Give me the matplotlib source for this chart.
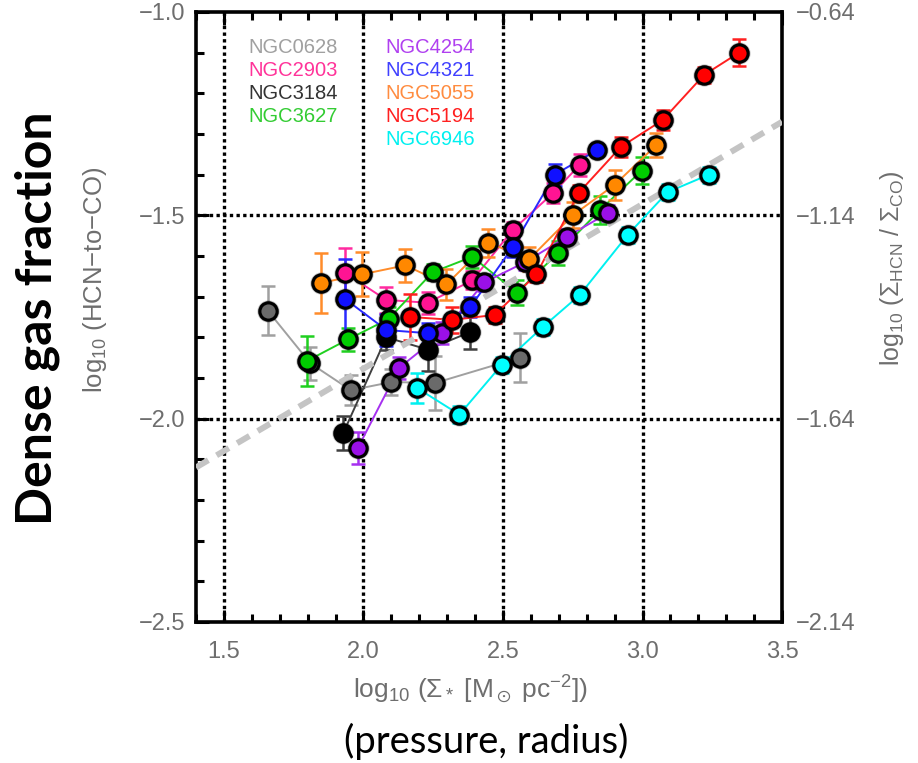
import matplotlib.pyplot as plt
import numpy as np
from matplotlib.ticker import MultipleLocator, FuncFormatter

plt.rcParams['font.family'] = ['Liberation Sans', 'DejaVu Sans']
plt.rcParams['mathtext.fontset'] = 'custom'
plt.rcParams['mathtext.rm'] = 'Liberation Sans'
plt.rcParams['mathtext.it'] = 'Liberation Sans:italic'
plt.rcParams['mathtext.fallback'] = 'stixsans'

# log10 stellar surface density vs log10 HCN/CO, binned per galaxy
ngc0628_x = [1.658, 1.81, 1.955, 2.10, 2.258, 2.56]
ngc0628_y = [-1.735, -1.864, -1.93, -1.91, -1.912, -1.85]
ngc0628_err = [0.06, 0.04, 0.037, 0.032, 0.066, 0.06]

ngc2903_x = [1.935, 2.082, 2.23, 2.39, 2.535, 2.68, 2.775]
ngc2903_y = [-1.642, -1.708, -1.715, -1.66, -1.536, -1.445, -1.376]
ngc2903_err = [0.062, 0.032, 0.027, 0.022, 0.02, 0.025, 0.027]

ngc3184_x = [1.928, 2.082, 2.23, 2.383]
ngc3184_y = [-2.035, -1.80, -1.83, -1.787]
ngc3184_err = [0.042, 0.03, 0.052, 0.042]

ngc3627_x = [1.798, 1.945, 2.09, 2.248, 2.39, 2.55, 2.697, 2.848, 2.997]
ngc3627_y = [-1.858, -1.805, -1.755, -1.64, -1.602, -1.69, -1.593, -1.487, -1.39]
ngc3627_err = [0.062, 0.028, 0.03, 0.02, 0.027, 0.03, 0.03, 0.034, 0.034]

ngc4254_x = [1.98, 2.128, 2.283, 2.433, 2.58, 2.728, 2.875]
ngc4254_y = [-2.072, -1.875, -1.79, -1.665, -1.615, -1.553, -1.495]
ngc4254_err = [0.04, 0.027, 0.027, 0.02, 0.02, 0.02, 0.02]

ngc4321_x = [1.935, 2.082, 2.233, 2.383, 2.535, 2.685, 2.836]
ngc4321_y = [-1.706, -1.782, -1.79, -1.726, -1.578, -1.40, -1.34]
ngc4321_err = [0.098, 0.04, 0.025, 0.025, 0.025, 0.027, 0.015]

ngc5055_x = [1.849, 1.996, 2.15, 2.297, 2.448, 2.595, 2.75, 2.90, 3.05]
ngc5055_y = [-1.666, -1.645, -1.623, -1.67, -1.568, -1.607, -1.50, -1.425, -1.327]
ngc5055_err = [0.074, 0.054, 0.041, 0.037, 0.034, 0.03, 0.032, 0.037, 0.03]

ngc5194_x = [2.168, 2.319, 2.47, 2.62, 2.771, 2.922, 3.072, 3.22, 3.346]
ngc5194_y = [-1.75, -1.757, -1.745, -1.645, -1.445, -1.332, -1.266, -1.155, -1.10]
ngc5194_err = [0.057, 0.032, 0.02, 0.02, 0.02, 0.025, 0.025, 0.02, 0.034]

ngc6946_x = [2.193, 2.344, 2.495, 2.642, 2.775, 2.947, 3.09, 3.238]
ngc6946_y = [-1.925, -1.99, -1.868, -1.775, -1.696, -1.548, -1.443, -1.40]
ngc6946_err = [0.037, 0.02, 0.02, 0.02, 0.02, 0.02, 0.02, 0.02]

# overall trend
trend_x = [1.4, 3.5]
trend_y = [-2.12, -1.27]

names = ['NGC0628', 'NGC2903', 'NGC3184', 'NGC3627',
         'NGC4254', 'NGC4321', 'NGC5055', 'NGC5194', 'NGC6946']
line_colors = ['#a0a0a0', '#ff2aa0', '#404040', '#20d020', '#a630f0',
               '#2a2aff', '#ff8c2a', '#ff2020', '#00f0f0']
fill_colors = ['#6a6a6a', '#ff1493', '#000000', '#00cc00', '#9a10e8',
               '#1010ff', '#ff8800', '#ff0000', '#00ffff']
text_colors = ['#a0a0a0', '#ff3399', '#333333', '#33cc33', '#b040f0',
               '#4040ff', '#ff8c40', '#ff2020', '#00f0f0']

series = [(ngc0628_x, ngc0628_y, ngc0628_err),
          (ngc2903_x, ngc2903_y, ngc2903_err),
          (ngc3184_x, ngc3184_y, ngc3184_err),
          (ngc3627_x, ngc3627_y, ngc3627_err),
          (ngc4254_x, ngc4254_y, ngc4254_err),
          (ngc4321_x, ngc4321_y, ngc4321_err),
          (ngc5055_x, ngc5055_y, ngc5055_err),
          (ngc5194_x, ngc5194_y, ngc5194_err),
          (ngc6946_x, ngc6946_y, ngc6946_err)]


def fmt(digits):
    return FuncFormatter(lambda v, p: f'{v:.{digits}f}'.replace('-', '\u2212'))


fig = plt.figure(figsize=(9.18, 7.63), dpi=100)
ax = fig.add_axes([0.2135, 0.1848, 0.6384, 0.7995])
ax.set_xlim(1.4, 3.5)
ax.set_ylim(-2.5, -1.0)

for xv in [1.5, 2.0, 2.5, 3.0]:
    ax.axvline(xv, color='k', lw=2.4, ls=(0, (1, 1)), zorder=1)
for yv in [-1.5, -2.0]:
    ax.axhline(yv, color='k', lw=2.4, ls=(0, (1, 1)), zorder=1)

for i, (x, y, e) in enumerate(series):
    z = 2 + i * 0.01
    ax.plot(x, y, '-', color=line_colors[i], lw=1.4, zorder=z)
    ax.errorbar(x, y, yerr=e, fmt='none', ecolor=line_colors[i],
                elinewidth=1.8, capsize=5, capthick=1.8, zorder=z)

ax.plot(trend_x, trend_y, color='#c4c4c4', lw=4.3, ls=(0, (2.4, 1.6)), zorder=3)

for i, (x, y, e) in enumerate(series):
    z = 4 + i * 0.01
    ax.plot(x, y, 'o', ms=16, color='k', alpha=0.22, mew=0, zorder=z)
    ax.plot(x, y, 'o', ms=12.5, mfc=fill_colors[i], mec='k', mew=2.3, zorder=z)

# galaxy names in two columns
col_x = [0.089, 0.324]
for i, name in enumerate(names):
    col = 0 if i < 4 else 1
    row = i if i < 4 else i - 4
    ax.text(col_x[col], 0.941 - row * 0.0375, name, color=text_colors[i],
            fontsize=14.5, ha='left', va='center', transform=ax.transAxes)

for s in ax.spines.values():
    s.set_linewidth(2.6)

ax.xaxis.set_major_locator(MultipleLocator(0.5))
ax.xaxis.set_minor_locator(MultipleLocator(0.1))
ax.yaxis.set_major_locator(MultipleLocator(0.5))
ax.yaxis.set_minor_locator(MultipleLocator(0.1))
ax.xaxis.set_major_formatter(fmt(1))
ax.yaxis.set_major_formatter(fmt(1))
ax.tick_params(which='both', direction='in', top=True, right=False,
               colors='#000000', labelcolor='#6e6e6e', width=2.2, labelsize=17)
ax.tick_params(which='major', length=9)
ax.tick_params(which='minor', length=6)
ax.tick_params(axis='x', pad=14)
ax.tick_params(axis='y', pad=8)

ax2 = ax.twinx()
ax2.set_ylim(-2.5 + 0.36, -1.0 + 0.36)
ax2.set_yticks([-2.14, -1.64, -1.14, -0.64])
ax2.yaxis.set_major_formatter(fmt(2))
ax2.tick_params(axis='y', length=0, pad=10, labelsize=17, labelcolor='#6e6e6e')
for s in ax2.spines.values():
    s.set_visible(False)

fig.text(0.512, 0.096, r'log$_{10}$ ($\Sigma_*$ [M$_\odot$ pc$^{-2}$])',
         color='#6e6e6e', fontsize=19, ha='center', va='center')
fig.text(0.104, 0.633, r'log$_{10}$ (HCN$-$to$-$CO)', color='#6e6e6e',
         fontsize=18.5, rotation=90, ha='center', va='center')
fig.text(0.972, 0.649, r'log$_{10}$ ($\Sigma_{\rm HCN}$ / $\Sigma_{\rm CO}$)',
         color='#6e6e6e', fontsize=18, rotation=90, ha='center', va='center')
fig.text(0.041, 0.583, 'Dense gas fraction', family='Lato', fontweight='bold',
         fontsize=36, rotation=90, ha='center', va='center', color='k')
fig.text(0.53, 0.028, '(pressure, radius)', family='Lato', fontsize=27.5,
         ha='center', va='center', color='k')

fig.savefig('out.png', dpi=100)
